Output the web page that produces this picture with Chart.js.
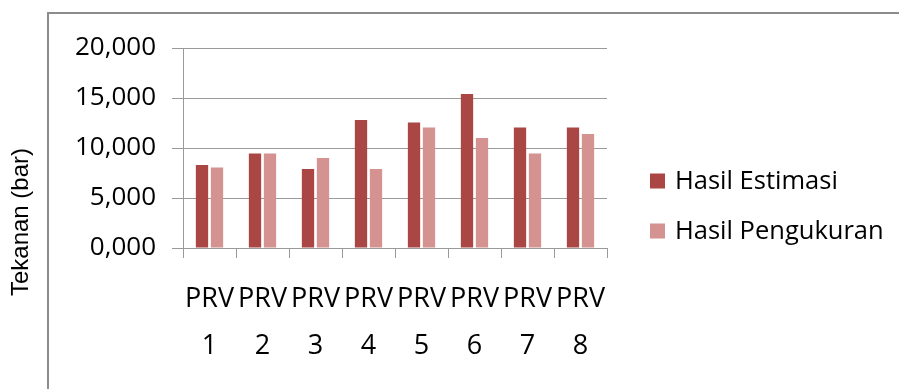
<!DOCTYPE html>
<html>
<head>
<meta charset="utf-8">
<script src="https://cdn.jsdelivr.net/npm/chart.js@4.4.1/dist/chart.umd.min.js"></script>
<style>
  html, body { margin: 0; padding: 0; background: #fff; }
  #wrap { position: relative; width: 899px; height: 389px; }
</style>
</head>
<body>
<div id="wrap"><canvas id="c" width="899" height="389"></canvas></div>
<script>
// Pressure per PRV (bar)
const categories = [["PRV", "1"], ["PRV", "2"], ["PRV", "3"], ["PRV", "4"], ["PRV", "5"], ["PRV", "6"], ["PRV", "7"], ["PRV", "8"]];
const seriesNames = ["Hasil Estimasi", "Hasil Pengukuran"];
const estimasi = [8.3, 9.45, 7.9, 12.8, 12.55, 15.4, 12.05, 12.05];
const pengukuran = [8.05, 9.45, 9.0, 7.9, 12.05, 11.0, 9.45, 11.4];
const yTitle = "Tekanan (bar)";

const colors = ["#AA4643", "#D49291"];
const labelFont = "'Open Sans', 'Noto Sans', sans-serif";

// Outer frame, rotated axis title and the right-hand legend
const decorations = {
  id: 'decorations',
  afterDraw(chart) {
    const ctx = chart.ctx;
    ctx.save();
    ctx.strokeStyle = '#8c8c8c';
    ctx.lineWidth = 2;
    ctx.beginPath();
    ctx.moveTo(48, 389);
    ctx.lineTo(48, 13);
    ctx.lineTo(899, 13);
    ctx.stroke();

    ctx.fillStyle = '#000';
    ctx.font = "24px 'Liberation Sans', Arial, sans-serif";
    ctx.textAlign = 'center';
    ctx.textBaseline = 'middle';
    ctx.translate(21, 222);
    ctx.rotate(-Math.PI / 2);
    ctx.fillText(yTitle, 0, 0);
    ctx.restore();

    ctx.save();
    ctx.font = "25.5px " + labelFont;
    ctx.textAlign = 'left';
    ctx.textBaseline = 'middle';
    chart.data.datasets.forEach((ds, i) => {
      const cy = 181 + i * 50;
      ctx.fillStyle = ds.backgroundColor;
      ctx.fillRect(650, cy - 7.5, 15, 15);
      ctx.fillStyle = '#000';
      ctx.fillText(ds.label, 675, cy + 1);
    });
    ctx.restore();
  }
};

new Chart(document.getElementById('c'), {
  type: 'bar',
  data: {
    labels: categories,
    datasets: [
      { label: seriesNames[0], data: estimasi, backgroundColor: colors[0] },
      { label: seriesNames[1], data: pengukuran, backgroundColor: colors[1] }
    ]
  },
  options: {
    responsive: false,
    animation: false,
    layout: { padding: { left: 0, right: 292, top: 48, bottom: 0 } },
    datasets: {
      bar: {
        categoryPercentage: 0.566,
        barPercentage: 0.82,
        borderWidth: 0
      }
    },
    plugins: {
      legend: { display: false },
      tooltip: { enabled: false }
    },
    scales: {
      x: {
        grid: {
          offset: true,
          drawOnChartArea: false,
          drawTicks: true,
          tickLength: 10,
          color: '#9a9a9a'
        },
        border: { display: true, color: '#9a9a9a', width: 1 },
        ticks: {
          color: '#000',
          padding: 18,
          maxRotation: 0,
          autoSkip: false,
          font: { family: labelFont, size: 27, lineHeight: 47 / 27 }
        },
        afterFit(scale) { scale.height = 389 - 248; }
      },
      y: {
        min: 0,
        max: 20,
        ticks: {
          stepSize: 5,
          color: '#000',
          padding: 16,
          font: { family: labelFont, size: 26 },
          callback: (v) => v.toFixed(3).replace('.', ',')
        },
        grid: { color: '#9a9a9a', tickLength: 11 },
        border: { display: true, color: '#9a9a9a', width: 1 },
        afterFit(scale) { scale.width = 183; }
      }
    }
  },
  plugins: [decorations]
});
</script>
</body>
</html>
